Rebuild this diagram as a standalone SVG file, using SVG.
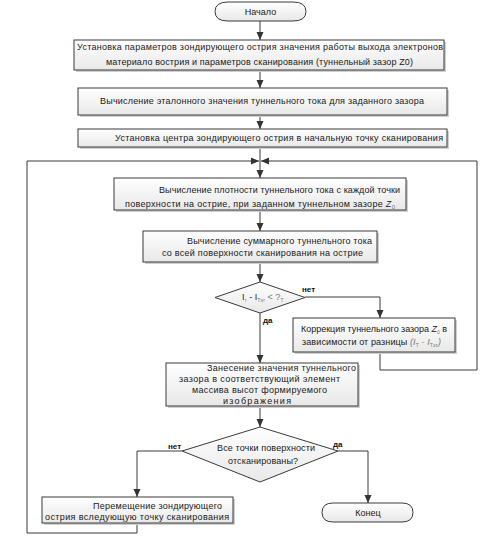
<svg xmlns="http://www.w3.org/2000/svg" width="504" height="546" viewBox="0 0 504 546">
<defs>
<linearGradient id="g" x1="0" y1="0" x2="0" y2="1">
<stop offset="0" stop-color="#ffffff"/>
<stop offset="1" stop-color="#e8e8e8"/>
</linearGradient>
<marker id="arr" markerUnits="userSpaceOnUse" markerWidth="8" markerHeight="8" refX="8" refY="4" orient="auto">
<path d="M0,0.5 L8,4 L0,7.5 Z" fill="#333333"/>
</marker>
</defs>
<style>
.box{fill:url(#g);stroke:#3a3a3a;stroke-width:1}
.sh{fill:#cfcfcf}
.t{font-family:"Liberation Sans",Arial,sans-serif;font-size:9px;fill:#1a1a1a}
.lb{font-family:"Liberation Sans",Arial,sans-serif;font-size:8px;font-weight:bold;fill:#111}
.c{fill:none;stroke:#3a3a3a;stroke-width:1}
.a{marker-end:url(#arr)}
.g{fill:#777}
</style>
<rect width="504" height="546" fill="#ffffff"/>

<g id="connectors">
<line class="c a" x1="260" y1="21" x2="260" y2="40"/>
<line class="c a" x1="260" y1="70" x2="260" y2="88"/>
<line class="c a" x1="260" y1="115" x2="260" y2="129"/>
<line class="c a" x1="260" y1="147" x2="260" y2="178"/>
<polyline class="c a" points="137,523 137,533 27,533 27,161 259,161"/>
<polyline class="c a" points="380,352 380,370 477,370 477,161 261,161"/>
<line class="c a" x1="260" y1="210" x2="260" y2="231"/>
<line class="c a" x1="260" y1="262" x2="260" y2="282"/>
<polyline class="c a" points="305,297 380,297 380,318"/>
<line class="c a" x1="260" y1="313" x2="260" y2="363"/>
<line class="c a" x1="260" y1="406" x2="260" y2="427"/>
<polyline class="c a" points="182,451 137,451 137,497"/>
<polyline class="c a" points="338,451 368,451 368,503"/>
<text class="lb" x="302" y="292">нет</text>
<text class="lb" x="263" y="323">да</text>
<text class="lb" x="168" y="449">нет</text>
<text class="lb" x="333" y="447">да</text>
</g>

<g id="start">
<path class="box" d="M228,2 H293 Q306,2 306,11.5 Q306,21 293,21 H228 Q215,21 215,11.5 Q215,2 228,2 Z"/>
<text class="t" x="260.5" y="15" text-anchor="middle">Начало</text>
</g>

<g id="set-params">
<rect class="sh" x="76" y="42" width="370" height="30"/>
<rect class="box" x="74" y="40" width="370" height="30"/>
<text class="t" x="77" y="50" textLength="366" lengthAdjust="spacing">Установка параметров зондирующего острия значения работы выхода электронов</text>
<text class="t" x="106" y="65" textLength="307" lengthAdjust="spacing">материало вострия и параметров сканирования (туннельный зазор Z0)</text>
</g>

<g id="ref-current">
<rect class="sh" x="80" y="90" width="369" height="27"/>
<rect class="box" x="78" y="88" width="369" height="27"/>
<text class="t" x="100" y="104" textLength="324" lengthAdjust="spacing">Вычисление эталонного значения туннельного тока для заданного зазора</text>
</g>

<g id="set-center">
<rect class="sh" x="80" y="131" width="369" height="18"/>
<rect class="box" x="78" y="129" width="369" height="18"/>
<text class="t" x="115" y="141" textLength="328" lengthAdjust="spacing">Установка центра зондирующего острия  в начальную точку сканирования</text>
</g>

<g id="density">
<rect class="sh" x="116" y="180" width="292" height="32"/>
<rect class="box" x="114" y="178" width="292" height="32"/>
<text class="t" x="159" y="193" textLength="241" lengthAdjust="spacing">Вычисление плотности туннельного тока с каждой точки</text>
<text class="t" x="125" y="207" textLength="270" lengthAdjust="spacing">поверхности на острие, при заданном  туннельном зазоре <tspan font-style="italic">Z</tspan><tspan font-size="6" dy="2" class="g">0</tspan></text>
</g>

<g id="total-current">
<rect class="sh" x="145" y="233" width="234" height="31"/>
<rect class="box" x="143" y="231" width="234" height="31"/>
<text class="t" x="187" y="244" textLength="185" lengthAdjust="spacing">Вычисление суммарного туннельного тока</text>
<text class="t" x="162" y="256" textLength="201" lengthAdjust="spacing">со всей поверхности сканирования на острие</text>
</g>

<g id="check-current">
<path class="box" d="M260,282 L305,297.5 L260,313 L215,297.5 Z"/>
<text class="t" x="242" y="300">I<tspan font-size="5" dy="1.5" class="g">т</tspan><tspan dy="-1.5"> - I</tspan><tspan font-size="5" dy="1.5" class="g">Тэт</tspan><tspan dy="-1.5" class="g"> &lt; ?</tspan><tspan font-size="5" dy="1.5" class="g">Т</tspan></text>
</g>

<g id="correction">
<rect class="sh" x="295" y="320" width="162" height="34"/>
<rect class="box" x="293" y="318" width="162" height="34"/>
<text class="t" x="301" y="332" textLength="146" lengthAdjust="spacing">Коррекция туннельного зазора <tspan font-style="italic">Z</tspan><tspan font-size="5" dy="1.5" class="g">0</tspan><tspan dy="-1.5"> в</tspan></text>
<text class="t" x="302" y="345" textLength="139" lengthAdjust="spacing">зависимости от разницы  <tspan class="g" font-style="italic">(I</tspan><tspan font-size="5" dy="1.5" class="g">Т</tspan><tspan dy="-1.5" class="g" font-style="italic"> - I</tspan><tspan font-size="5" dy="1.5" class="g">Тэт</tspan><tspan dy="-1.5" class="g" font-style="italic">)</tspan></text>
</g>

<g id="store">
<rect class="sh" x="168" y="365" width="192" height="43"/>
<rect class="box" x="166" y="363" width="192" height="43"/>
<text class="t" x="207" y="371" textLength="149" lengthAdjust="spacing">Занесение значения туннельного</text>
<text class="t" x="179" y="382" textLength="161" lengthAdjust="spacing">зазора в соответствующий элемент</text>
<text class="t" x="192" y="393" textLength="135" lengthAdjust="spacing">массива высот формируемого</text>
<text class="t" x="223" y="404" textLength="68" lengthAdjust="spacing">изображения</text>
</g>

<g id="all-scanned">
<path class="box" d="M260,427 L338,451 L260,482 L182,451 Z"/>
<text class="t" x="217" y="451" textLength="98" lengthAdjust="spacing">Все точки поверхности</text>
<text class="t" x="228" y="464" textLength="70" lengthAdjust="spacing">отсканированы?</text>
</g>

<g id="move">
<rect class="sh" x="44" y="499" width="191" height="26"/>
<rect class="box" x="42" y="497" width="191" height="26"/>
<text class="t" x="93" y="509" textLength="129" lengthAdjust="spacing">Перемещение зондирующего</text>
<text class="t" x="45" y="520" textLength="184" lengthAdjust="spacing">острия вследующую точку сканирования</text>
</g>

<g id="end">
<path class="box" d="M333,503 H402 Q413,503 413,512.5 Q413,522 402,522 H333 Q322,522 322,512.5 Q322,503 333,503 Z"/>
<text class="t" x="368" y="516" text-anchor="middle">Конец</text>
</g>
</svg>
